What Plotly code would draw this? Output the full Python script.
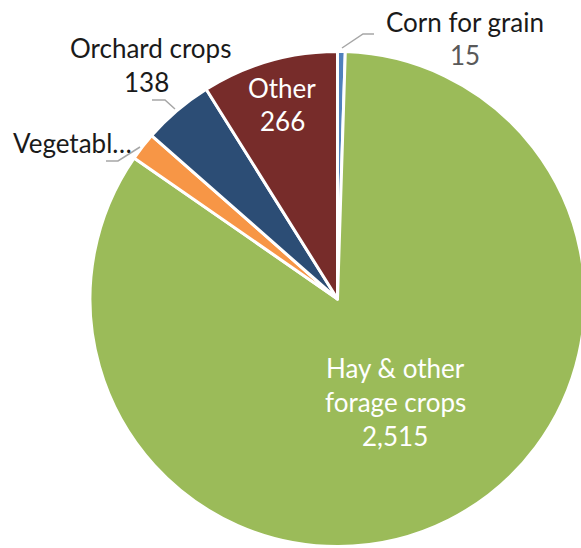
import plotly.graph_objects as go

labels = ["Corn for grain", "Hay & other forage crops", "Vegetables", "Orchard crops", "Other"]
values = [15, 2515, 55, 138, 266]
colors = ["#4F81BD", "#9BBB59", "#F79646", "#2C4D75", "#772C2A"]

W, H = 586, 548
FONT = "Lato"
FS = 26

def px(x, y):
    return x / W, 1 - y / H

cx, cy, r = 337.5, 299, 247.5
fig = go.Figure(go.Pie(
    labels=labels, values=values, sort=False, direction="clockwise", rotation=0,
    marker=dict(colors=colors, line=dict(color="white", width=3)),
    textinfo="none", hoverinfo="label+value", showlegend=False,
    domain=dict(x=[(cx - r) / W, min(1, (cx + r) / W)], y=[1 - (cy + r) / H, 1 - (cy - r) / H]),
))

def fmt(v):
    return f"{v:,}"

annots = []
def add(text, x, y, color, xanchor="center"):
    ax, ay = px(x, y)
    annots.append(dict(text=text, x=ax, y=ay, xref="paper", yref="paper", showarrow=False,
                       xanchor=xanchor, yanchor="middle",
                       font=dict(family=FONT, size=FS, color=color)))

# Corn for grain
add(labels[0], 465, 22, "#1a1a1a")
add(fmt(values[0]), 465, 55, "#595959")
# Orchard
add(labels[3], 150, 48, "#1a1a1a")
add(fmt(values[3]), 146, 82, "#1a1a1a")
# Vegetables (truncated)
add(labels[2][:8] + "…", 134, 143, "#1a1a1a", xanchor="right")
# Other
add(labels[4], 282, 88, "white")
add(fmt(values[4]), 282, 121, "white")
# Hay
add("Hay & other", 395, 368, "white")
add("forage crops", 395, 402, "white")
add(fmt(values[1]), 395, 436, "white")

shapes = []
def path(points):
    d = ""
    for i, (x, y) in enumerate(points):
        X, Y = px(x, y)
        d += ("M" if i == 0 else "L") + f"{X},{Y} "
    shapes.append(dict(type="path", path=d.strip(), xref="paper", yref="paper",
                       line=dict(color="#A6A6A6", width=1.5)))

path([(342, 48), (363, 34), (374, 34)])
path([(152, 100), (165, 100), (175, 109)])
path([(140, 147), (118, 161), (106, 161)])

fig.update_layout(width=W, height=H, margin=dict(l=0, r=0, t=0, b=0),
                  paper_bgcolor="white", plot_bgcolor="white",
                  annotations=annots, shapes=shapes)
fig.write_html("out.html", config={"displayModeBar": False},
               post_script="document.body.style.margin='0';document.body.style.overflow='hidden';")
